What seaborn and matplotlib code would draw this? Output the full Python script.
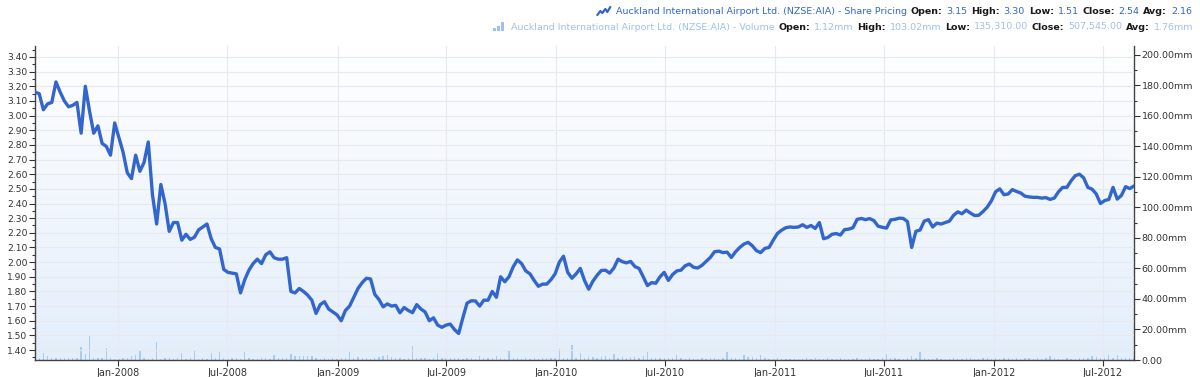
import numpy as np
import pandas as pd
import matplotlib
matplotlib.use("Agg")
import matplotlib.pyplot as plt
import matplotlib.dates as mdates
from matplotlib.ticker import MultipleLocator, FuncFormatter
from matplotlib.colors import LinearSegmentedColormap
from matplotlib.lines import Line2D
from matplotlib.patches import Rectangle
import seaborn as sns

# ---------------- data (weekly) ----------------
start_date = "2007-08-15"

price = [
    3.16, 3.15, 3.04, 3.08, 3.09, 3.23, 3.16, 3.10, 3.06, 3.07,
    3.09, 2.88, 3.20, 3.03, 2.88, 2.93, 2.81, 2.79, 2.73, 2.95,
    2.85, 2.75, 2.61, 2.57, 2.73, 2.62, 2.68, 2.82, 2.46, 2.26,
    2.53, 2.40, 2.21, 2.27, 2.27, 2.15, 2.19, 2.155, 2.17, 2.22,
    2.24, 2.26, 2.16, 2.10, 2.09, 1.95, 1.93, 1.925, 1.92, 1.79,
    1.88, 1.945, 1.99, 2.02, 1.99, 2.05, 2.07, 2.03, 2.02, 2.02,
    2.03, 1.80, 1.79, 1.82, 1.80, 1.775, 1.74, 1.65, 1.71, 1.73,
    1.68, 1.66, 1.64, 1.60, 1.67, 1.70, 1.76, 1.82, 1.86, 1.89,
    1.885, 1.78, 1.745, 1.695, 1.715, 1.70, 1.705, 1.654, 1.69, 1.67,
    1.655, 1.71, 1.68, 1.66, 1.60, 1.62, 1.57, 1.555, 1.57, 1.577,
    1.54, 1.513, 1.62, 1.72, 1.736, 1.735, 1.70, 1.74, 1.74, 1.80,
    1.76, 1.90, 1.866, 1.90, 1.968, 2.015, 1.99, 1.94, 1.92, 1.875,
    1.835, 1.85, 1.85, 1.88, 1.92, 2.00, 2.04, 1.93, 1.89, 1.92,
    1.957, 1.875, 1.815, 1.87, 1.91, 1.943, 1.945, 1.925, 1.96, 2.02,
    2.003, 1.995, 2.005, 1.97, 1.957, 1.90, 1.84, 1.86, 1.856, 1.90,
    1.93, 1.875, 1.915, 1.94, 1.945, 1.975, 1.987, 1.965, 1.96, 1.978,
    2.005, 2.032, 2.071, 2.075, 2.065, 2.068, 2.032, 2.07, 2.10, 2.123,
    2.135, 2.112, 2.078, 2.065, 2.094, 2.10, 2.15, 2.196, 2.218, 2.235,
    2.24, 2.237, 2.24, 2.255, 2.237, 2.25, 2.23, 2.27, 2.16, 2.168,
    2.19, 2.195, 2.185, 2.222, 2.225, 2.235, 2.292, 2.298, 2.29, 2.297,
    2.283, 2.245, 2.238, 2.232, 2.288, 2.292, 2.30, 2.298, 2.276, 2.10,
    2.21, 2.219, 2.28, 2.29, 2.24, 2.266, 2.26, 2.27, 2.28, 2.32,
    2.343, 2.33, 2.355, 2.335, 2.318, 2.32, 2.345, 2.375, 2.418, 2.48,
    2.50, 2.46, 2.465, 2.495, 2.482, 2.472, 2.45, 2.445, 2.442, 2.442,
    2.437, 2.44, 2.428, 2.437, 2.48, 2.51, 2.51, 2.555, 2.59, 2.60,
    2.575, 2.51, 2.498, 2.465, 2.40, 2.42, 2.428, 2.51, 2.43, 2.455,
    2.515, 2.502, 2.52,
]

volume_mm = [
    1.0, 1.6, 4.6, 2.8, 1.2, 1.5, 1.4, 1.5, 1.3, 1.5, 1.2, 8.7, 4.1, 15.6, 1.4, 1.3, 1.5, 8.1, 1.2, 0.8,
    0.9, 1.1, 1.4, 2.8, 3.2, 6.4, 1.3, 0.9, 1.1, 11.5, 0.8, 1.0, 1.2, 0.9, 1.1, 4.6, 0.8, 1.0, 5.8, 0.9,
    1.2, 0.8, 4.6, 1.3, 5.1, 1.2, 0.9, 1.0, 1.4, 0.8, 5.1, 1.1, 0.9, 0.8, 1.0, 1.2, 0.9, 3.2, 1.5, 1.1,
    1.3, 3.7, 2.8, 2.4, 2.8, 2.6, 2.8, 1.2, 0.9, 1.0, 0.8, 1.1, 0.9, 1.2, 1.0, 5.1, 1.3, 2.2, 1.0, 1.1,
    0.9, 1.4, 2.2, 2.4, 3.2, 1.8, 1.0, 1.2, 0.9, 1.3, 9.2, 1.1, 1.0, 1.4, 0.9, 1.2, 4.6, 1.5, 1.2, 1.3,
    1.0, 1.2, 0.9, 1.1, 1.4, 0.8, 2.4, 1.3, 1.0, 1.2, 2.6, 1.1, 0.9, 6.4, 1.5, 1.0, 0.8, 1.1, 0.9, 1.2,
    0.8, 1.0, 1.3, 1.4, 1.1, 6.9, 1.6, 1.2, 9.7, 1.5, 4.6, 1.2, 1.8, 2.2, 1.0, 1.9, 2.4, 1.6, 3.8, 1.3,
    2.0, 1.5, 1.8, 2.1, 1.2, 2.3, 5.0, 1.4, 1.1, 1.6, 1.0, 1.5, 1.2, 3.5, 1.0, 0.8, 1.1, 0.9, 0.7, 1.0,
    0.8, 1.1, 1.4, 0.9, 1.2, 5.0, 1.6, 1.3, 0.9, 3.5, 2.2, 1.8, 1.0, 3.0, 1.2, 0.9, 0.7, 1.1, 0.8, 0.9,
    0.8, 0.6, 0.9, 0.7, 1.1, 0.8, 1.0, 0.9, 0.7, 1.0, 0.8, 0.6, 1.0, 0.9, 0.8, 0.7, 1.0, 0.9, 0.8, 1.1,
    0.9, 0.8, 1.0, 4.0, 1.3, 1.0, 0.8, 0.9, 1.1, 2.4, 1.2, 5.0, 1.1, 0.8, 0.9, 1.0, 0.8, 0.7, 0.9, 1.0,
    0.8, 0.9, 1.2, 1.0, 0.8, 0.7, 1.1, 1.3, 0.9, 1.0, 0.8, 1.4, 1.1, 0.9, 1.0, 0.8, 1.2, 1.0, 0.9, 1.1,
    0.9, 1.3, 2.5, 1.1, 0.8, 0.9, 1.0, 0.8, 0.7, 1.0, 1.4, 1.6, 2.5, 1.8, 1.2, 1.6, 3.0, 1.5, 3.0, 1.2,
    1.4, 1.0, 1.2,
]

legend_price = [
    ("Auckland International Airport Ltd. (NZSE:AIA) - Share Pricing", "series"),
    ("Open:", "label"), ("3.15", "series"),
    ("High:", "label"), ("3.30", "series"),
    ("Low:", "label"), ("1.51", "series"),
    ("Close:", "label"), ("2.54", "series"),
    ("Avg:", "label"), ("2.16", "series"),
]
legend_volume = [
    ("Auckland International Airport Ltd. (NZSE:AIA) - Volume", "series"),
    ("Open:", "label"), ("1.12mm", "series"),
    ("High:", "label"), ("103.02mm", "series"),
    ("Low:", "label"), ("135,310.00", "series"),
    ("Close:", "label"), ("507,545.00", "series"),
    ("Avg:", "label"), ("1.76mm", "series"),
]

dates = pd.date_range(start_date, periods=len(price), freq="7D")
df = pd.DataFrame({"date": dates, "price": price, "volume": volume_mm})

# ---------------- styling ----------------
sns.set_theme(style="white")
plt.rcParams["font.family"] = ["DejaVu Sans"]

LINE_BLUE = "#3366cc"
VOL_BLUE = "#a9cbf2"
VOL_TEXT = "#9fc0ee"
TXT = "#333333"
W, H = 1200, 377

fig = plt.figure(figsize=(W / 100, H / 100), dpi=100)
fig.patch.set_facecolor("white")
ax = fig.add_axes([35 / W, 1 - 360 / H, (1134 - 35) / W, (360 - 46) / H])
axv = ax.twinx()
ax.set_zorder(axv.get_zorder() + 1)
ax.patch.set_visible(False)

# background gradient (white top -> light blue bottom)
grad = np.linspace(0, 1, 256).reshape(-1, 1)
cmap = LinearSegmentedColormap.from_list("bg", ["#ffffff", "#e3eefb"])
axv.imshow(grad, extent=[0, 1, 0, 1], transform=axv.transAxes, aspect="auto",
           cmap=cmap, origin="upper", zorder=0)

# volume bars
axv.bar(df["date"], df["volume"], width=2.2, color=VOL_BLUE, linewidth=0, zorder=1)

# price line
sns.lineplot(data=df, x="date", y="price", ax=ax, color=LINE_BLUE, linewidth=2.4,
             solid_joinstyle="round", solid_capstyle="round", zorder=3)

# limits
ax.set_xlim(dates[0], dates[-1])
ax.set_ylim(1.332, 3.475)
axv.set_ylim(0, 205.9)

# ticks & grid
ax.xaxis.set_major_locator(mdates.MonthLocator(bymonth=[1, 7]))
ax.xaxis.set_major_formatter(mdates.DateFormatter("%b-%Y"))
ax.yaxis.set_major_locator(MultipleLocator(0.1))
ax.yaxis.set_minor_locator(MultipleLocator(0.05))
ax.yaxis.set_major_formatter(FuncFormatter(lambda v, p: f"{v:.2f}"))
axv.yaxis.set_major_locator(MultipleLocator(20))
axv.yaxis.set_minor_locator(MultipleLocator(10))
axv.yaxis.set_major_formatter(FuncFormatter(lambda v, p: "0.00" if abs(v) < 1e-9 else f"{v:.2f}mm"))

ax.grid(True, which="major", axis="both", color="#e7e9ee", linewidth=0.8)
ax.set_axisbelow(True)

ax.tick_params(axis="y", which="major", direction="out", length=4, width=0.8,
               color=TXT, labelsize=6.6, labelcolor=TXT, pad=1.5, left=True)
ax.tick_params(axis="y", which="minor", direction="out", length=2, width=0.8,
               color=TXT, left=True)
ax.tick_params(axis="x", which="major", direction="out", length=4, width=0.8,
               color=TXT, labelsize=7.0, labelcolor=TXT, pad=2, bottom=True)
axv.tick_params(axis="y", which="major", direction="out", length=4, width=0.8,
                color=TXT, labelsize=6.8, labelcolor=TXT, pad=1.5, right=True)
axv.tick_params(axis="y", which="minor", direction="out", length=2, width=0.8,
                color=TXT, right=True)

ax.set_xlabel("")
ax.set_ylabel("")
axv.set_ylabel("")
for s in ["top", "right"]:
    ax.spines[s].set_visible(False)
for s in ["top", "left", "bottom"]:
    axv.spines[s].set_visible(False)
for s in ["left", "bottom"]:
    ax.spines[s].set_color("#444444")
    ax.spines[s].set_linewidth(1.0)
axv.spines["right"].set_color("#444444")
axv.spines["right"].set_linewidth(1.0)

# ---------------- legend header ----------------
renderer = fig.canvas.get_renderer()
LEG_SIZE = 6.8


def draw_header(pieces, series_color, right_px, y_px):
    x = right_px
    for text, kind in reversed(pieces):
        color = series_color if kind == "series" else "#1a1a1a"
        weight = "normal" if kind == "series" else "bold"
        t = fig.text(x / W, 1 - y_px / H, text, ha="right", va="center",
                     color=color, fontsize=LEG_SIZE, fontweight=weight)
        bb = t.get_window_extent(renderer)
        x = bb.x0 - 3.8
    return x


x1 = draw_header(legend_price, LINE_BLUE, 1192, 11)
x2 = draw_header(legend_volume, VOL_TEXT, 1193, 27)

# icon: price line
ix = x1 - 2
pts_x = [ix - 13, ix - 10, ix - 8, ix - 5, ix - 3, ix]
pts_y = [15, 11, 13, 9, 12, 7]
fig.add_artist(Line2D([p / W for p in pts_x], [1 - p / H for p in pts_y],
                      color=LINE_BLUE, linewidth=1.6, solid_joinstyle="round"))
# icon: volume bars
ix2 = x2 - 2
for k, h in enumerate([3, 5, 9]):
    bx = ix2 - 12 + k * 4
    fig.add_artist(Rectangle((bx / W, 1 - 31 / H), 2.6 / W, h / H,
                             facecolor=VOL_TEXT, edgecolor="none"))

fig.savefig("out.png", dpi=100, facecolor="white")
